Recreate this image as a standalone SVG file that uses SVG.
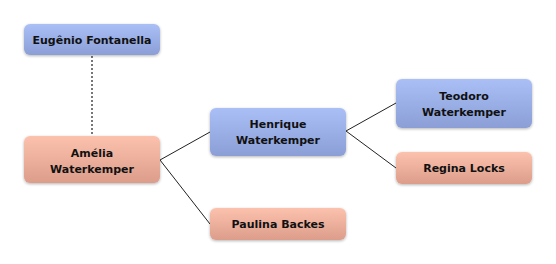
<svg xmlns="http://www.w3.org/2000/svg" width="556" height="264" viewBox="0 0 556 264">
<defs>
<linearGradient id="gb" x1="0" y1="0" x2="0" y2="1"><stop offset="0" stop-color="#a9bff6"/><stop offset="1" stop-color="#8b9fd6"/></linearGradient>
<linearGradient id="gp" x1="0" y1="0" x2="0" y2="1"><stop offset="0" stop-color="#fcc2ad"/><stop offset="1" stop-color="#dc9d8b"/></linearGradient>
<filter id="sh" x="-10%" y="-20%" width="120%" height="150%"><feGaussianBlur in="SourceAlpha" stdDeviation="1.5"/><feOffset dy="1"/><feComponentTransfer><feFuncA type="linear" slope="0.3"/></feComponentTransfer><feMerge><feMergeNode/><feMergeNode in="SourceGraphic"/></feMerge></filter>
</defs>
<style>
.b{fill:url(#gb);filter:url(#sh)}
.p{fill:url(#gp);filter:url(#sh)}
text{font-family:"DejaVu Sans","Liberation Sans",sans-serif;font-weight:bold;font-size:11px;fill:#111;text-anchor:middle}
.c{stroke:#222;stroke-width:1;fill:none}
.d{stroke:#777;stroke-width:2;stroke-dasharray:2,2;fill:none}
</style>
<rect width="556" height="264" fill="#fff"/>
<g id="connectors">
<line class="d" x1="92" y1="56" x2="92" y2="136"/>
<polyline class="c" points="210,132 160,160 210,224"/>
<polyline class="c" points="396,103 346,131 396,168"/>
</g>
<g id="eugenio"><rect class="b" x="24" y="24" width="136" height="31" rx="6"/><text x="92" y="44">Eugênio Fontanella</text></g>
<g id="amelia"><rect class="p" x="24" y="136" width="136" height="47" rx="6"/><text x="92" y="157">Amélia</text><text x="92" y="173">Waterkemper</text></g>
<g id="henrique"><rect class="b" x="210" y="108" width="136" height="48" rx="6"/><text x="278" y="128">Henrique</text><text x="278" y="144">Waterkemper</text></g>
<g id="paulina"><rect class="p" x="210" y="208" width="136" height="32" rx="6"/><text x="278" y="228">Paulina Backes</text></g>
<g id="teodoro"><rect class="b" x="396" y="79" width="136" height="49" rx="6"/><text x="464" y="100">Teodoro</text><text x="464" y="116">Waterkemper</text></g>
<g id="regina"><rect class="p" x="396" y="152" width="136" height="32" rx="6"/><text x="464" y="172">Regina Locks</text></g>
</svg>
